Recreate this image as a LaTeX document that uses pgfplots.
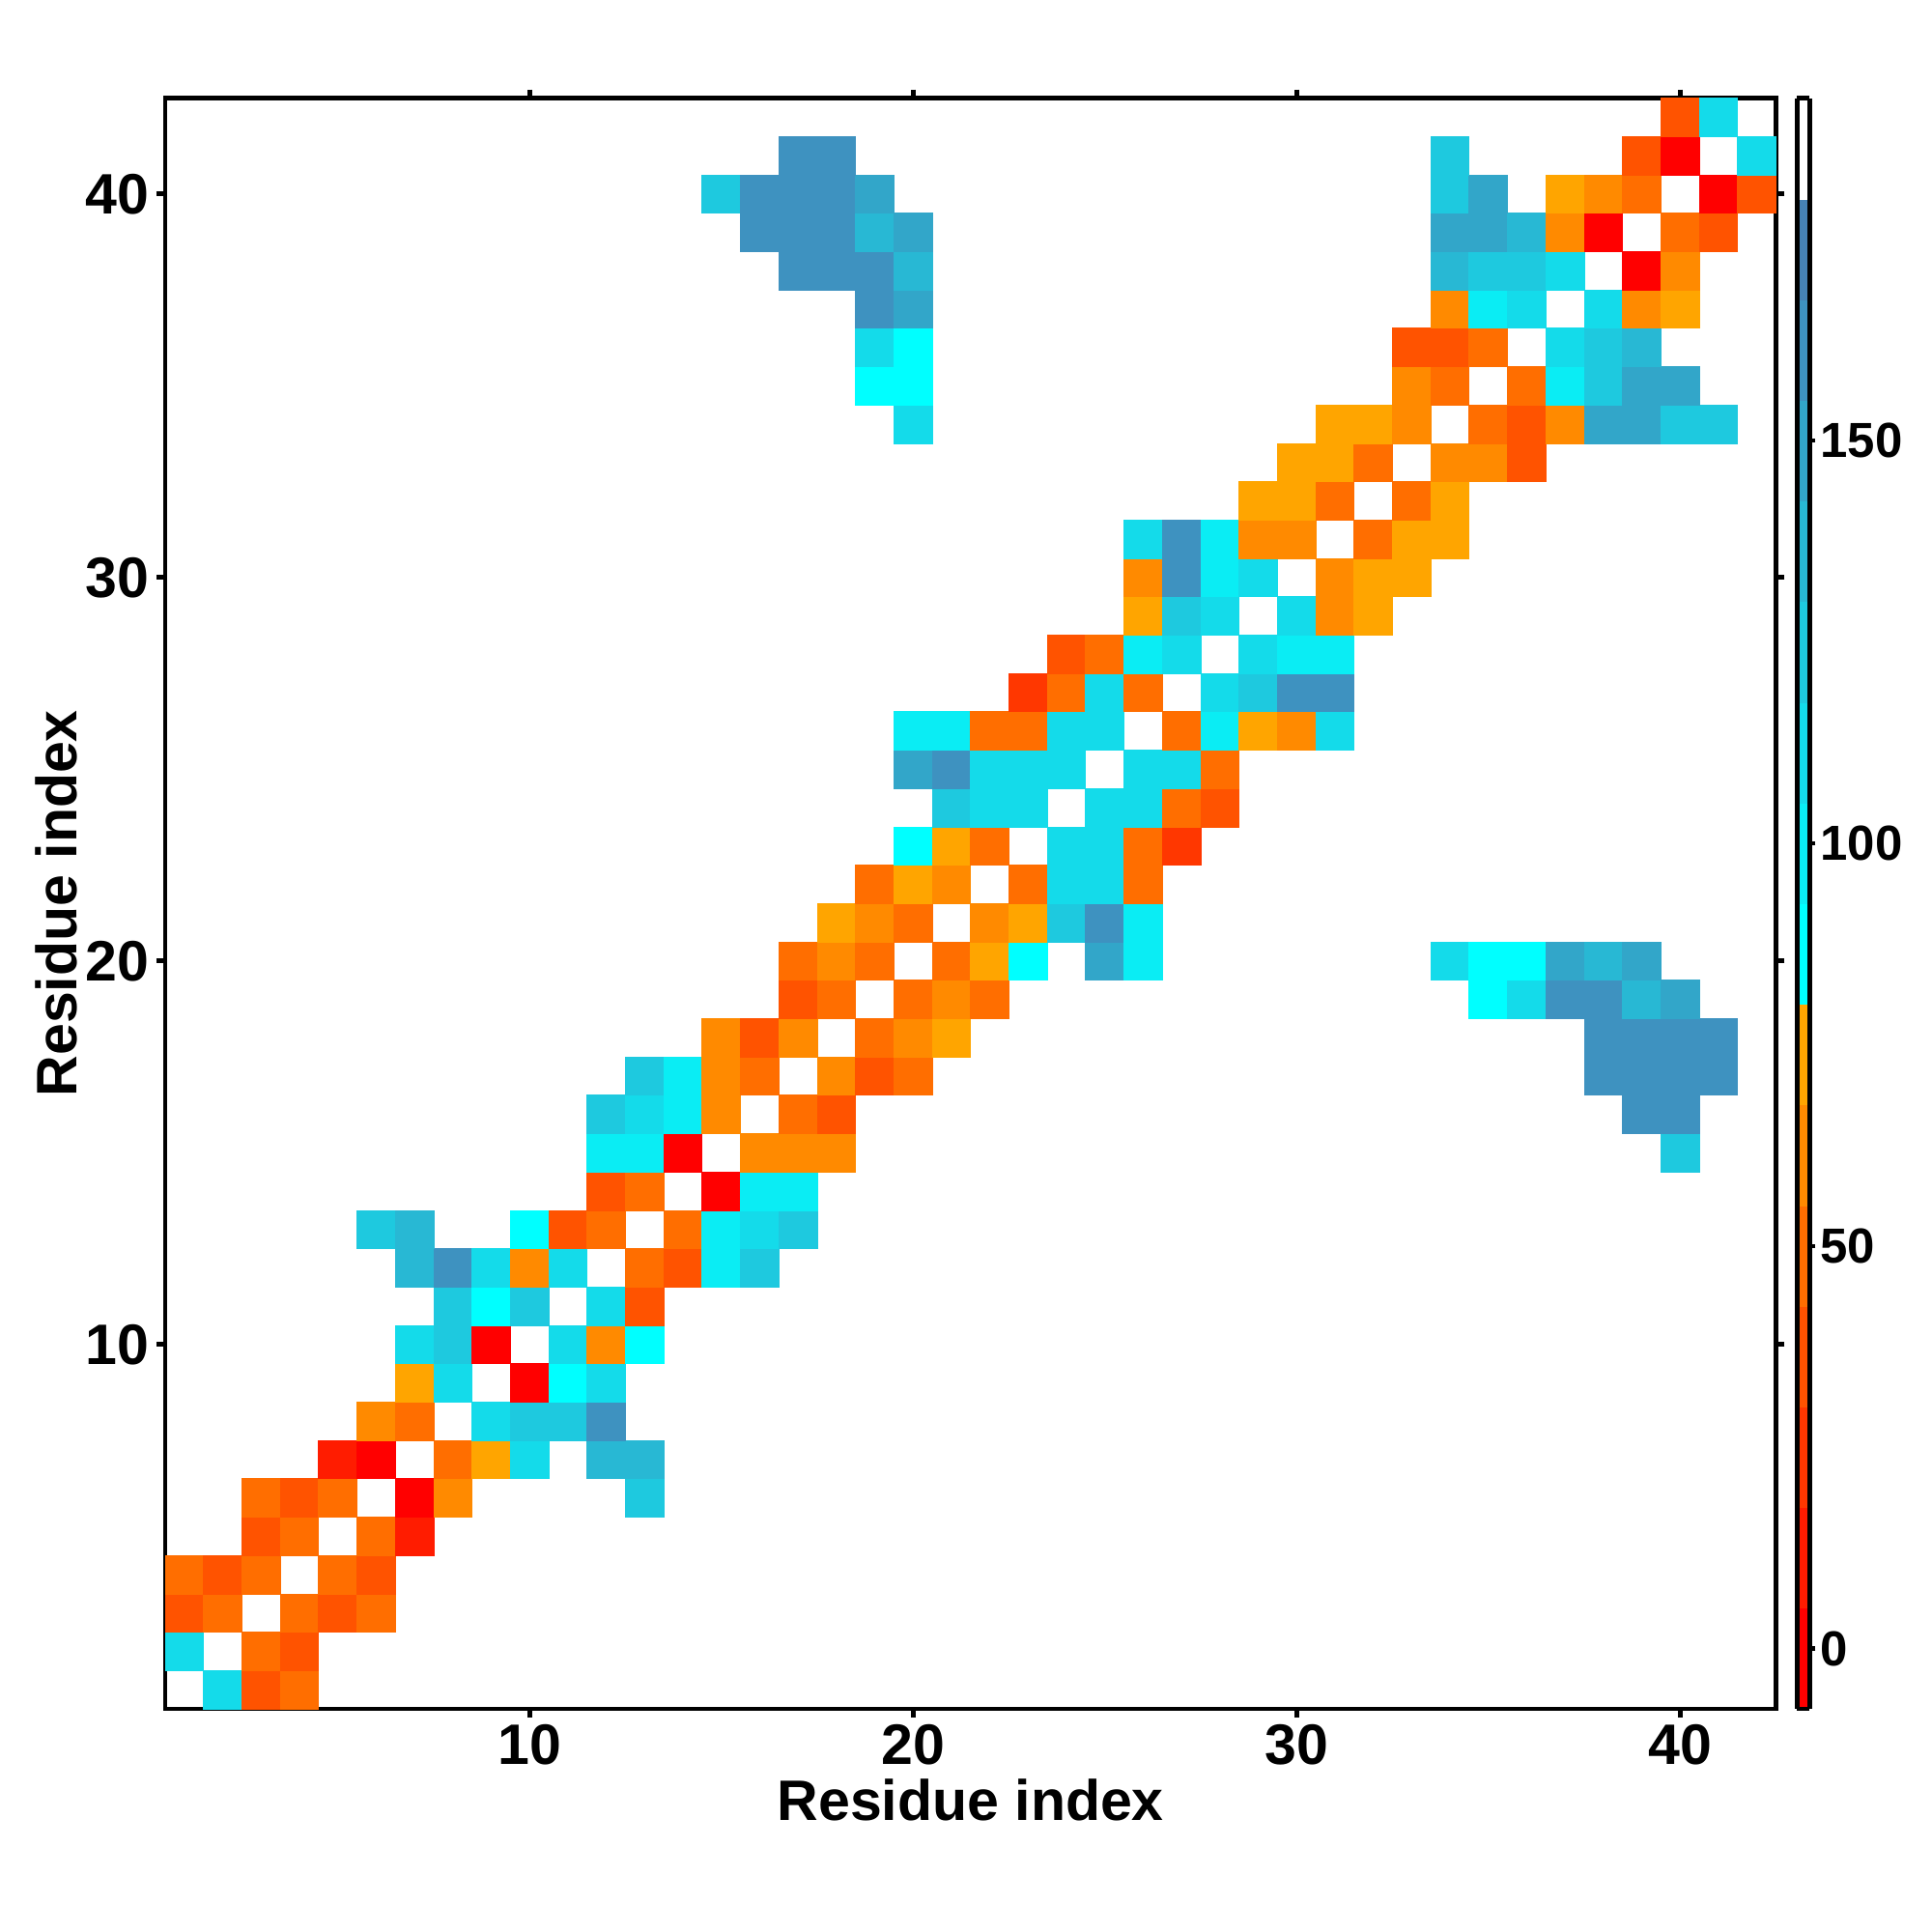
\documentclass[border=0pt]{standalone}
\usepackage{fontspec}
\setmainfont{Liberation Sans}
\usepackage{pgfplots}
\pgfplotsset{compat=1.18}

\begin{document}
\begin{tikzpicture}
\begin{axis}[
    x=0.397cm, y=0.397cm,
    xmin=0.5, xmax=42.5, ymin=0.5, ymax=42.5,
    axis on top,
    axis line style={line width=1.4pt},
    tick align=outside,
    major tick length=0.09cm,
    every tick/.style={black, line width=1.4pt},
    xtick={10,20,30,40}, ytick={10,20,30,40},
    /pgf/number format/assume math mode=true,
    tick label style={font=\fontsize{16.8pt}{20pt}\selectfont\bfseries, inner sep=0pt},
    xticklabel style={anchor=north, yshift=-0.07cm},
    yticklabel style={anchor=east, xshift=-0.07cm},
    xlabel={Residue index}, ylabel={Residue index},
    label style={font=\fontsize{16.8pt}{20pt}\selectfont\bfseries},
    xlabel style={at={(axis description cs:0.5,-0.069)}, anchor=base},
    ylabel style={at={(axis description cs:-0.0546,0.5)}, anchor=base},
    % 16 bins of 12.5 from -7.5 to 192.5 (last entry closes the top bin)
    colormap={angmap}{
        rgb255(0)=(255,0,0) rgb255(1)=(255,28,0) rgb255(2)=(255,55,0)
        rgb255(3)=(255,83,0) rgb255(4)=(255,110,0) rgb255(5)=(255,138,0)
        rgb255(6)=(255,165,0) rgb255(7)=(0,255,255) rgb255(8)=(10,237,244)
        rgb255(9)=(20,219,234) rgb255(10)=(30,201,223) rgb255(11)=(40,184,212)
        rgb255(12)=(50,166,201) rgb255(13)=(62,146,192) rgb255(14)=(70,130,180)
        rgb255(15)=(255,255,255) rgb255(16)=(255,255,255)
    },
    colormap access=piecewise constant,
    point meta min=-7.5, point meta max=192.5,
    colorbar,
    colorbar style={
        at={(parent axis.north east)}, anchor=north west, xshift=-0.08cm,
        scale only axis, width=0.13cm, height=16.674cm,
        axis line style={line width=1.4pt},
        tick align=outside, major tick length=0.06cm,
        every tick/.style={black, line width=1.2pt},
        ytick={0,50,100,150}, ytick pos=right, yticklabel pos=right,
        /pgf/number format/assume math mode=true,
        yticklabel style={font=\fontsize{14.5pt}{17pt}\selectfont\bfseries, anchor=west, inner sep=0pt, xshift=0.045cm},
    },
]
\addplot[scatter, only marks, mark=square*, mark size=0.1985cm, line width=0.2pt,
    point meta=explicit,
    scatter/use mapped color={draw=mapped color, fill=mapped color}] coordinates {
    (2,1)[111] (3,1)[36] (4,1)[49]
    (1,2)[111] (3,2)[49] (4,2)[36]
    (1,3)[36] (2,3)[49] (4,3)[49] (5,3)[36] (6,3)[49]
    (1,4)[49] (2,4)[36] (3,4)[49] (5,4)[49] (6,4)[36]
    (3,5)[36] (4,5)[49] (6,5)[49] (7,5)[11]
    (3,6)[49] (4,6)[36] (5,6)[49] (7,6)[0] (8,6)[61] (13,6)[124]
    (5,7)[11] (6,7)[0] (8,7)[49] (9,7)[74] (10,7)[111] (12,7)[136] (13,7)[136]
    (6,8)[61] (7,8)[49] (9,8)[111] (10,8)[124] (11,8)[124] (12,8)[161]
    (7,9)[74] (8,9)[111] (10,9)[0] (11,9)[86] (12,9)[111]
    (7,10)[111] (8,10)[124] (9,10)[0] (11,10)[111] (12,10)[61] (13,10)[86]
    (8,11)[124] (9,11)[86] (10,11)[124] (12,11)[111] (13,11)[36]
    (7,12)[136] (8,12)[161] (9,12)[111] (10,12)[61] (11,12)[111] (13,12)[49] (14,12)[36] (15,12)[99] (16,12)[124]
    (6,13)[124] (7,13)[136] (10,13)[86] (11,13)[36] (12,13)[49] (14,13)[49] (15,13)[99] (16,13)[111] (17,13)[124]
    (12,14)[36] (13,14)[49] (15,14)[0] (16,14)[99] (17,14)[99]
    (12,15)[99] (13,15)[99] (14,15)[0] (16,15)[61] (17,15)[61] (18,15)[61] (40,15)[124]
    (12,16)[124] (13,16)[111] (14,16)[99] (15,16)[61] (17,16)[49] (18,16)[36] (39,16)[161] (40,16)[161]
    (13,17)[124] (14,17)[99] (15,17)[61] (16,17)[49] (18,17)[61] (19,17)[36] (20,17)[49]
    (38,17)[161] (39,17)[161] (40,17)[161] (41,17)[161]
    (15,18)[61] (16,18)[36] (17,18)[61] (19,18)[49] (20,18)[61] (21,18)[74]
    (38,18)[161] (39,18)[161] (40,18)[161] (41,18)[161]
    (17,19)[36] (18,19)[49] (20,19)[49] (21,19)[61] (22,19)[49]
    (35,19)[86] (36,19)[111] (37,19)[161] (38,19)[161] (39,19)[136] (40,19)[149]
    (17,20)[49] (18,20)[61] (19,20)[49] (21,20)[49] (22,20)[74] (23,20)[86] (25,20)[149] (26,20)[99]
    (34,20)[111] (35,20)[86] (36,20)[86] (37,20)[149] (38,20)[136] (39,20)[149]
    (18,21)[74] (19,21)[61] (20,21)[49] (22,21)[61] (23,21)[74] (24,21)[124] (25,21)[161] (26,21)[99]
    (19,22)[49] (20,22)[74] (21,22)[61] (23,22)[49] (24,22)[111] (25,22)[111] (26,22)[49]
    (20,23)[86] (21,23)[74] (22,23)[49] (24,23)[111] (25,23)[111] (26,23)[49] (27,23)[24]
    (21,24)[124] (22,24)[111] (23,24)[111] (25,24)[111] (26,24)[111] (27,24)[49] (28,24)[36]
    (20,25)[149] (21,25)[161] (22,25)[111] (23,25)[111] (24,25)[111] (26,25)[111] (27,25)[111] (28,25)[49]
    (20,26)[99] (21,26)[99] (22,26)[49] (23,26)[49] (24,26)[111] (25,26)[111] (27,26)[49] (28,26)[99] (29,26)[74] (30,26)[61] (31,26)[111]
    (23,27)[24] (24,27)[49] (25,27)[111] (26,27)[49] (28,27)[111] (29,27)[124] (30,27)[161] (31,27)[161]
    (24,28)[36] (25,28)[49] (26,28)[99] (27,28)[111] (29,28)[111] (30,28)[99] (31,28)[99]
    (26,29)[74] (27,29)[124] (28,29)[111] (30,29)[111] (31,29)[61] (32,29)[74]
    (26,30)[61] (27,30)[161] (28,30)[99] (29,30)[111] (31,30)[61] (32,30)[74] (33,30)[74]
    (26,31)[111] (27,31)[161] (28,31)[99] (29,31)[61] (30,31)[61] (32,31)[49] (33,31)[74] (34,31)[74]
    (29,32)[74] (30,32)[74] (31,32)[49] (33,32)[49] (34,32)[74]
    (30,33)[74] (31,33)[74] (32,33)[49] (34,33)[61] (35,33)[61] (36,33)[36]
    (20,34)[111] (31,34)[74] (32,34)[74] (33,34)[61] (35,34)[49] (36,34)[36] (37,34)[61] (38,34)[149] (39,34)[149] (40,34)[124] (41,34)[124]
    (19,35)[86] (20,35)[86] (33,35)[61] (34,35)[49] (36,35)[49] (37,35)[99] (38,35)[124] (39,35)[149] (40,35)[149]
    (19,36)[111] (20,36)[86] (33,36)[36] (34,36)[36] (35,36)[49] (37,36)[111] (38,36)[124] (39,36)[136]
    (19,37)[161] (20,37)[149] (34,37)[61] (35,37)[99] (36,37)[111] (38,37)[111] (39,37)[61] (40,37)[74]
    (17,38)[161] (18,38)[161] (19,38)[161] (20,38)[136] (34,38)[136] (35,38)[124] (36,38)[124] (37,38)[111] (39,38)[0] (40,38)[61]
    (16,39)[161] (17,39)[161] (18,39)[161] (19,39)[136] (20,39)[149] (34,39)[149] (35,39)[149] (36,39)[136] (37,39)[61] (38,39)[0] (40,39)[49] (41,39)[36]
    (15,40)[124] (16,40)[161] (17,40)[161] (18,40)[161] (19,40)[149] (34,40)[124] (35,40)[149] (37,40)[74] (38,40)[61] (39,40)[49] (41,40)[0] (42,40)[36]
    (17,41)[161] (18,41)[161] (34,41)[124] (39,41)[36] (40,41)[0] (42,41)[111]
    (40,42)[36] (41,42)[111]
};
\end{axis}
\path (-1.71cm,-2.31cm) rectangle (18.29cm,17.69cm);
\end{tikzpicture}
\end{document}
